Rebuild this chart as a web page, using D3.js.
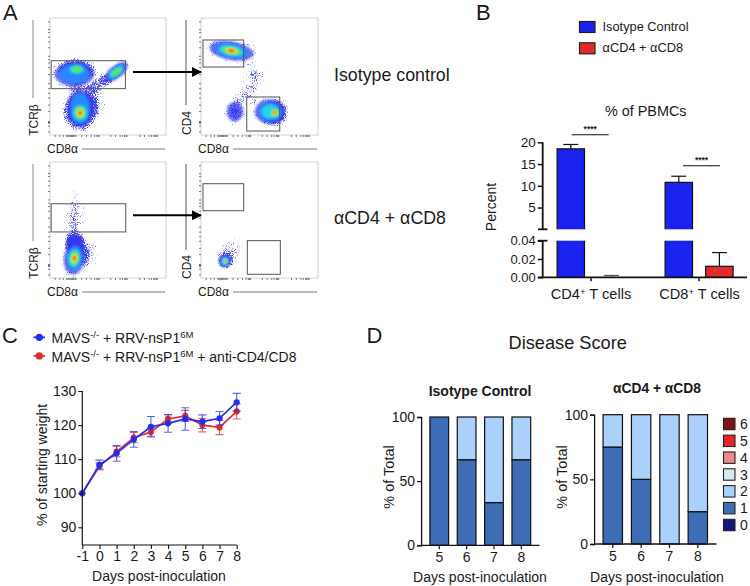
<!DOCTYPE html>
<html><head><meta charset="utf-8">
<style>html,body{margin:0;background:#fff}svg{display:block}text{font-family:"Liberation Sans",Arial,sans-serif;fill:#1a1a1a}</style>
<script src="https://cdn.jsdelivr.net/npm/d3@7"></script></head><body>
<svg id="c" width="750" height="586"></svg>
<script>
// ---------- Panel A (flow cytometry, axis units 0-100)
const flowFrames=[
 {id:0,x0:50,x1:166,y0:135,y1:18,yLabel:"TCRβ",lineX:33,lineEnd:98,labelY:120,capX:33},
 {id:1,x0:201,x1:318,y0:135,y1:18,yLabel:"CD4",lineX:186,lineEnd:105,labelY:123,capX:186},
 {id:2,x0:50,x1:166,y0:278,y1:162,yLabel:"TCRβ",lineX:33,lineEnd:241,labelY:263,capX:33},
 {id:3,x0:201,x1:318,y0:278,y1:162,yLabel:"CD4",lineX:186,lineEnd:250,labelY:267,capX:186}];
const flowGates=[[0,1,65,39.6,63.5],[1,1.7,36.5,58.1,81.2],[1,39.1,67.3,3.4,32.5],[2,1,65.3,39.7,64],[3,1.7,36.5,58,81.3],[3,39.6,67.8,3.2,32.2]];
// panel,u,v,rx,ry,rotation,levels
const flowBlobs=[
 [0,21,52,17,10.5,0,2],[0,23,56,11,6.5,0,4],[0,26,24,11,15,0,2],[0,26,19,11,12,0,6],[0,57,54,12,5.5,-38,4],[0,44,44,8,4,-35,0],[0,38,30,7,10,0,0],
 [1,26,72,19,8,10,6],[1,59,20,13,10.5,0,3],[1,63,19,8,8,0,6],[1,29,20,7,8.5,0,1],[1,38,34,8,6,0,0],[1,45,50,7,9,0,0],
 [2,21,50,7,20,0,0],[2,21,30,6.5,8,0,1],[2,21,17,9,14,8,6],[2,33,22,7,9,0,0],
 [3,20.5,14.5,5,5.5,20,6],[3,25,22,8,10,25,0]];
const flowLevels=[[1,"#3038ea"],[.76,"#2a86ff"],[.56,"#25d5e5"],[.42,"#55e85a"],[.27,"#f0e82e"],[.15,"#ee1c1c"]];
const flowTicks=[4,8,11,14,15,16,17,18,19,20,21,22,27,31,35,38,40,41,42,52,56,60,62,64,65,66,77,81,85,87,89,90,91,92];
const flowTicksY=[3,8,10.5,11,11.5,12,20.6,26,32,36,40,44.3,52,58,62,65,67.7,75,80,84,88,90.5,97];
const arrowRows=[72,215.3];
const sideLabels=[["Isotype control",81],["αCD4 + αCD8",224]];
// ---------- Panel B
const bGroups=["CD4","CD8"];
const bSeries=["Isotype Control","αCD4 + αCD8"];
const bColors=["#1a22ee","#e32b2e"];
const bValues=[[18.5,0.001],[10.8,0.012]];
const bErrors=[[19.5,0.002],[12.2,0.027]];
const bUpperTicks=[5,10,15,20];
const bLowerTicks=[0,0.02,0.04];
// ---------- Panel C
const cDays=[-1,0,1,2,3,4,5,6,7,8];
const cBlue=[100,108.3,111.7,115.8,119.5,120.5,121.8,121,122,126.7];
const cBlueErr=[0,1.4,2.3,2.3,3,2.6,3.3,2,2,2.6];
const cRed=[100,108,112.2,116.3,118,121.8,122.7,120,119.3,124];
const cRedErr=[0,.9,1.5,1.5,1.3,1.2,1.6,2,2.1,2.2];
const cYTicks=[90,100,110,120,130];
// ---------- Panel D
const dDays=[5,6,7,8];
const dIsoScore1=[100,66.7,33.3,66.7];
const dIsoScore2=[0,33.3,66.7,33.3];
const dDepScore1=[75,50,0,25];
const dDepScore2=[25,50,100,75];
const dScores=[6,5,4,3,2,1,0];
const dScoreColors=["#7d1212","#e8232a","#ee8a8a","#d8e8f0","#aad0fb","#3f6db5","#14147e"];
const dTicks=[0,50,100];

const svg=d3.select("#c");
const defs=svg.append("defs");
const blur=defs.append("filter").attr("id","soft").attr("x","-30%").attr("y","-30%").attr("width","160%").attr("height","160%");
blur.append("feGaussianBlur").attr("stdDeviation",1.1);
const sp=defs.append("filter").attr("id","speck").attr("x","-20%").attr("y","-20%").attr("width","140%").attr("height","140%").attr("color-interpolation-filters","sRGB");
sp.append("feTurbulence").attr("type","fractalNoise").attr("baseFrequency",1.1).attr("numOctaves",1).attr("seed",4).attr("result","n");
sp.append("feComposite").attr("in","SourceGraphic").attr("in2","n").attr("operator","arithmetic").attr("k1",0).attr("k2",1).attr("k3",1).attr("k4",-.92).attr("result","a");
sp.append("feColorMatrix").attr("in","a").attr("type","matrix").attr("values","0 0 0 0 .25 0 0 0 0 .25 0 0 0 0 .92 0 0 0 5 0");
function fade(id,top){
  const rg=defs.append("radialGradient").attr("id",id);
  rg.append("stop").attr("offset","0").attr("stop-color","#000").attr("stop-opacity",top);
  rg.append("stop").attr("offset","0.85").attr("stop-color","#000").attr("stop-opacity",.24);
  rg.append("stop").attr("offset","1").attr("stop-color","#000").attr("stop-opacity",0);
}
fade("fade",.72); fade("fadeWeak",.52);
defs.append("marker").attr("id","ah").attr("viewBox","0 0 10 10").attr("refX",9).attr("refY",5).attr("markerWidth",10).attr("markerHeight",10).attr("markerUnits","userSpaceOnUse")
  .append("path").attr("d","M0,0L10,5L0,10Z").attr("fill","#000");

function T(x,y,s,size,opt={}){
  const t=svg.append("text").attr("x",x).attr("y",y).attr("font-size",size).attr("text-anchor",opt.a||"start").text(s);
  if(opt.r!==undefined)t.attr("transform",`rotate(${opt.r} ${x} ${y})`);
  if(opt.b)t.attr("font-weight","bold");
  return t;
}
[["A",3,20],["B",476,20],["C",2,342.7],["D",366.5,342.7]].forEach(d=>T(d[1],d[2],d[0],22));

// ---- Panel A
flowFrames.forEach(f=>{
  const x=d3.scaleLinear().domain([0,100]).range([f.x0,f.x1]);
  const y=d3.scaleLinear().domain([0,100]).range([f.y0,f.y1]);
  const g=svg.append("g");
  g.append("rect").attr("x",f.x0).attr("y",f.y1).attr("width",f.x1-f.x0).attr("height",f.y0-f.y1).attr("fill","#fff").attr("stroke","#d4d4d4").attr("stroke-width",1);
  const blobs=flowBlobs.filter(b=>b[0]===f.id);
  const sx=(f.x1-f.x0)/100, sy=(f.y0-f.y1)/100;
  const halo=g.append("g").attr("filter","url(#speck)");
  blobs.forEach(b=>{
    halo.append("ellipse").attr("transform",`translate(${x(b[1])},${y(b[2])}) rotate(${b[5]})`)
      .attr("rx",b[3]*sx*1.55).attr("ry",b[4]*sy*1.55).attr("fill",b[6]?"url(#fade)":"url(#fadeWeak)");
  });
  const soft=g.append("g").attr("filter","url(#soft)");
  flowLevels.forEach((lv,i)=>{
    blobs.filter(b=>b[6]>i).forEach(b=>{
      soft.append("ellipse").attr("transform",`translate(${x(b[1])},${y(b[2])}) rotate(${b[5]})`)
        .attr("rx",b[3]*sx*lv[0]).attr("ry",b[4]*sy*lv[0]).attr("fill",lv[1]).attr("opacity",i===0?.7:1);
    });
  });
  const ax=g.append("g").attr("transform",`translate(0,${f.y0})`).call(d3.axisBottom(x).tickValues(flowTicks).tickSize(2).tickFormat(""));
  const ay=g.append("g").attr("transform",`translate(${f.x0},0)`).call(d3.axisLeft(y).tickValues(flowTicksY).tickSize(2).tickFormat(""));
  [ax,ay].forEach(a=>{a.select(".domain").remove();a.selectAll("line").attr("stroke","#444").attr("stroke-width",.7)});
  flowGates.filter(q=>q[0]===f.id).forEach(q=>{
    g.append("rect").attr("x",x(q[1])).attr("width",x(q[2])-x(q[1])).attr("y",y(q[4])).attr("height",y(q[3])-y(q[4])).attr("fill","none").attr("stroke","#555").attr("stroke-width",1);
  });
  svg.append("line").attr("x1",f.lineX).attr("x2",f.lineX).attr("y1",f.y1+2).attr("y2",f.lineEnd).attr("stroke",f.lineX<100?"#aaa":"#555").attr("stroke-width",f.lineX<100?1.4:1);
  T(f.capX+4.5,f.labelY,f.yLabel,12,{a:"middle",r:-90});
  T(f.x0-3,f.y0+18,"CD8α",12);
  svg.append("line").attr("x1",f.x0+32).attr("x2",f.x1-1).attr("y1",f.y0+14).attr("y2",f.y0+14).attr("stroke","#666").attr("stroke-width",.9);
});
arrowRows.forEach(r=>svg.append("line").attr("x1",133).attr("x2",201).attr("y1",r).attr("y2",r).attr("stroke","#000").attr("stroke-width",2).attr("marker-end","url(#ah)"));
sideLabels.forEach(d=>T(334,d[1],d[0],17.8));

// ---- Panel B
(function(){
  const ink="#111";
  bSeries.forEach((s,i)=>{
    svg.append("rect").attr("x",579.5).attr("y",21.5+i*21.3).attr("width",15.5).attr("height",11).attr("fill",bColors[i]).attr("stroke","#222").attr("stroke-width",1.2);
    T(602.5,31+i*21,s,12.8);
  });
  T(645.7,116,"% of PBMCs",14.4,{a:"middle"});
  const gx=d3.scaleBand().domain(bGroups).range([537,753]);
  const up=d3.scaleLinear().domain([0,20]).range([229.3,142.3]);
  const lo=d3.scaleLinear().domain([0,0.04]).range([277.3,240.7]).clamp(true);
  const barW=27.4;
  bGroups.forEach((g,gi)=>{
    [0,1].forEach(si=>{
      const cx=gx(g)+gx.bandwidth()/2+(si===0?-20.2:20.4);
      const v=bValues[gi][si], e=bErrors[gi][si], col=bColors[si];
      const xl=cx-barW/2,xr=cx+barW/2;
      if(si===0){
        svg.append("line").attr("x1",cx).attr("x2",cx).attr("y1",up(v)).attr("y2",up(e)).attr("stroke",ink).attr("stroke-width",1.2);
        svg.append("line").attr("x1",cx-7.5).attr("x2",cx+7.5).attr("y1",up(e)).attr("y2",up(e)).attr("stroke",ink).attr("stroke-width",1.2);
        svg.append("rect").attr("x",xl).attr("y",up(v)).attr("width",barW).attr("height",up(0)-up(v)).attr("fill",col);
        const p=d3.path();p.moveTo(xl,up(0));p.lineTo(xl,up(v));p.lineTo(xr,up(v));p.lineTo(xr,up(0));
        svg.append("path").attr("d",p.toString()).attr("fill","none").attr("stroke",ink).attr("stroke-width",1.2);
        svg.append("rect").attr("x",xl).attr("y",lo(0.04)).attr("width",barW).attr("height",lo(0)-lo(0.04)).attr("fill",col);
        const q=d3.path();q.moveTo(xl,lo(0.04));q.lineTo(xl,lo(0));q.moveTo(xr,lo(0.04));q.lineTo(xr,lo(0));
        svg.append("path").attr("d",q.toString()).attr("stroke",ink).attr("stroke-width",1.2);
      }else{
        svg.append("line").attr("x1",cx).attr("x2",cx).attr("y1",lo(v)).attr("y2",lo(e)).attr("stroke",e<.005?"#555":ink).attr("stroke-width",1.2);
        svg.append("line").attr("x1",cx-7.5).attr("x2",cx+7.5).attr("y1",lo(e)).attr("y2",lo(e)).attr("stroke",e<.005?"#555":ink).attr("stroke-width",1.2);
        if(v>.005){
          svg.append("rect").attr("x",xl).attr("y",lo(v)).attr("width",barW).attr("height",lo(0)-lo(v)).attr("fill",col).attr("stroke",ink).attr("stroke-width",1.2);
        }
      }
    });
  });
  const xAxis=svg.append("g").attr("transform","translate(0,277.3)").call(d3.axisBottom(gx).tickSize(4).tickFormat(""));
  xAxis.select(".domain").attr("d","M538,0H747").attr("stroke",ink).attr("stroke-width",1.8);
  xAxis.selectAll("line").attr("stroke",ink).attr("stroke-width",1.5);
  const ua=svg.append("g").attr("transform","translate(542.7,0)").call(d3.axisLeft(up).tickValues(bUpperTicks).tickSize(5).tickPadding(2).tickFormat(d3.format("d")));
  const la=svg.append("g").attr("transform","translate(542.7,0)").call(d3.axisLeft(lo).tickValues(bLowerTicks).tickSize(5).tickPadding(2).tickFormat(d3.format(".2f")));
  [ua,la].forEach(a=>{a.select(".domain").attr("stroke",ink).attr("stroke-width",1.8);a.selectAll("line").attr("stroke",ink).attr("stroke-width",1.5);a.selectAll("text").style("font-family",'"Liberation Sans"').attr("fill","#1a1a1a")});
  ua.selectAll("text").attr("font-size",13.5);
  la.selectAll("text").attr("font-size",13);
  ua.select(".domain").attr("d",`M0,${up(20)}V${up(0)}`);
  la.select(".domain").attr("d",`M0,${lo(0.04)}V${lo(0)}`);
  [up(0),lo(0.04)].forEach(y=>svg.append("line").attr("x1",538).attr("x2",547.5).attr("y1",y).attr("y2",y).attr("stroke",ink).attr("stroke-width",1.8));
  T(496,207,"Percent",14,{a:"middle",r:-90});
  [["CD4",591],["CD8",699.5]].forEach(d=>{
    const t=T(d[1],299,d[0],14.6,{a:"middle"});
    t.append("tspan").attr("dy",-4.5).attr("font-size",9.5).text("+");
    t.append("tspan").attr("dy",4.5).text(" T cells");
  });
  [[571.7,608.7,134.7],[683,720,165.7]].forEach(d=>{
    svg.append("line").attr("x1",d[0]).attr("x2",d[1]).attr("y1",d[2]).attr("y2",d[2]).attr("stroke",ink).attr("stroke-width",1.1);
    T((d[0]+d[1])/2,d[2]-2.5,"****",8.5,{a:"middle",b:true});
  });
})();

// ---- Panel C
(function(){
  const ink="#111";
  const x=d3.scaleLinear().domain([-1,8]).range([82.3,236.7]);
  const y=d3.scaleLinear().domain([90,130]).range([527.3,391]);
  const yb=545;
  [["#1f2ff0",""],["#e32b2e"," + anti-CD4/CD8"]].forEach((d,i)=>{
    const yy=337.3+i*18.6;
    svg.append("line").attr("x1",33.5).attr("x2",45).attr("y1",yy).attr("y2",yy).attr("stroke",d[0]).attr("stroke-width",1.8);
    svg.append("circle").attr("cx",39.3).attr("cy",yy).attr("r",3.6).attr("fill",d[0]);
    const t=T(51.5,yy+5.6,"MAVS",14);
    t.append("tspan").attr("dy",-5).attr("font-size",9.5).text("-/-");
    t.append("tspan").attr("dy",5).text(" + RRV-nsP1");
    t.append("tspan").attr("dy",-5).attr("font-size",9.5).text("6M");
    t.append("tspan").attr("dy",5).text(d[1]);
  });
  const line=d3.line().x((d,i)=>x(cDays[i])).y(d=>y(d));
  [[cRed,cRedErr,"#e32b2e"],[cBlue,cBlueErr,"#1f2ff0"]].forEach(s=>{
    const g=svg.append("g");
    s[0].forEach((v,i)=>{
      if(!s[1][i])return;
      const cx=x(cDays[i]);
      const p=d3.path();p.moveTo(cx,y(v-s[1][i]));p.lineTo(cx,y(v+s[1][i]));
      p.moveTo(cx-4,y(v-s[1][i]));p.lineTo(cx+4,y(v-s[1][i]));
      p.moveTo(cx-4,y(v+s[1][i]));p.lineTo(cx+4,y(v+s[1][i]));
      g.append("path").attr("d",p.toString()).attr("fill","none").attr("stroke",s[2]).attr("stroke-width",1.1).attr("opacity",.75);
    });
    g.append("path").attr("d",line(s[0])).attr("fill","none").attr("stroke",s[2]).attr("stroke-width",1.7);
    g.selectAll("circle").data(s[0]).join("circle").attr("cx",(d,i)=>x(cDays[i])).attr("cy",d=>y(d)).attr("r",3.1).attr("fill",s[2]);
  });
  const ax=svg.append("g").attr("transform",`translate(0,${yb})`).call(d3.axisBottom(x).tickValues(cDays).tickFormat(d=>String(d)).tickSize(4).tickPadding(2));
  const ay=svg.append("g").attr("transform","translate(82.3,0)").call(d3.axisLeft(y).tickValues(cYTicks).tickSize(4).tickPadding(2));
  ay.select(".domain").attr("d",`M0,391V${yb}`);
  ax.select(".domain").attr("d","M82.3,0H236.7");
  [ax,ay].forEach(a=>{a.select(".domain").attr("stroke",ink).attr("stroke-width",1.2);a.selectAll("line").attr("stroke",ink).attr("stroke-width",1.1);a.selectAll("text").attr("font-size",14).style("font-family",'"Liberation Sans"').attr("fill","#1a1a1a")});
  T(159,581,"Days post-inoculation",14,{a:"middle"});
  T(47,465,"% of starting weight",14,{a:"middle",r:-90});
})();

// ---- Panel D
function stacked(xr,yr,s1,s2,title,tx,ty,tsize,ycx){
  const ink="#111";
  const x=d3.scaleBand().domain(dDays).range(xr).paddingInner(.316).paddingOuter(.158);
  const y=d3.scaleLinear().domain([0,100]).range(yr);
  dDays.forEach((d,i)=>{
    if(s1[i]>0)svg.append("rect").attr("x",x(d)).attr("width",x.bandwidth()).attr("y",y(s1[i])).attr("height",y(0)-y(s1[i])).attr("fill",dScoreColors[5]).attr("stroke",ink).attr("stroke-width",1.2);
    if(s2[i]>0)svg.append("rect").attr("x",x(d)).attr("width",x.bandwidth()).attr("y",y(s1[i]+s2[i])).attr("height",y(s1[i])-y(s1[i]+s2[i])).attr("fill",dScoreColors[4]).attr("stroke",ink).attr("stroke-width",1.2);
  });
  const ax=svg.append("g").attr("transform",`translate(0,${yr[0]})`).call(d3.axisBottom(x).tickSize(4).tickPadding(3));
  const ay=svg.append("g").attr("transform",`translate(${xr[0]-4.5},0)`).call(d3.axisLeft(y).tickValues(dTicks).tickSize(4).tickPadding(2));
  ax.select(".domain").attr("d",`M${xr[0]-4.5},0H${xr[1]+4.5}`);
  [ax,ay].forEach(a=>{a.select(".domain").attr("stroke",ink).attr("stroke-width",1.3);a.selectAll("line").attr("stroke",ink).attr("stroke-width",1.2);a.selectAll("text").attr("font-size",14).style("font-family",'"Liberation Sans"').attr("fill","#1a1a1a")});
  T(tx,ty,title,tsize,{a:"middle",b:true});
  T(tx,581.5,"Days post-inoculation",14,{a:"middle"});
  T(ycx,477,"% of Total",14.5,{a:"middle",r:-90});
}
T(567.7,349,"Disease Score",18.2,{a:"middle"});
stacked([425.6,535],[545.3,417],dIsoScore1,dIsoScore2,"Isotype Control",480,396,14,393.5);
stacked([598.6,712],[544,414.7],dDepScore1,dDepScore2,"αCD4 + αCD8",657,393,13.8,566.5);
const legY=d3.scalePoint().domain(dScores).range([424,525]);
dScores.forEach((s,i)=>{
  svg.append("rect").attr("x",723.5).attr("y",legY(s)-5.7).attr("width",11.5).attr("height",11.4).attr("fill",dScoreColors[i]).attr("stroke","#222").attr("stroke-width",1.1);
  T(740,legY(s)+5,String(s),14);
});
</script></body></html>
